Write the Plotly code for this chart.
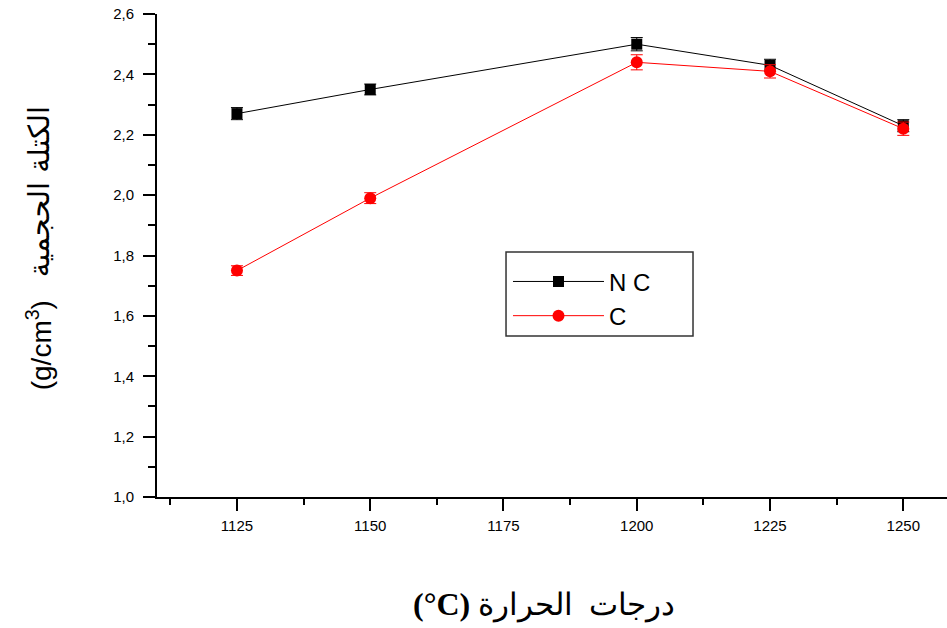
import plotly.graph_objects as go

temps = [1125, 1150, 1200, 1225, 1250]
nc_density = [2.27, 2.35, 2.50, 2.43, 2.23]
nc_err = [0.020, 0.018, 0.022, 0.020, 0.020]
c_density = [1.75, 1.99, 2.44, 2.41, 2.22]
c_err = [0.016, 0.018, 0.025, 0.022, 0.022]

x_ticks = [1125, 1150, 1175, 1200, 1225, 1250]
y_ticks = [1.0, 1.2, 1.4, 1.6, 1.8, 2.0, 2.2, 2.4, 2.6]
y_tick_labels = ["1,0", "1,2", "1,4", "1,6", "1,8", "2,0", "2,2", "2,4", "2,6"]

fig = go.Figure()
fig.add_trace(go.Scatter(
    x=temps, y=nc_density, name="N C", mode="lines+markers",
    line=dict(color="black", width=1),
    marker=dict(symbol="square", size=11, color="black"),
    error_y=dict(type="data", array=nc_err, color="black", thickness=1, width=6),
))
fig.add_trace(go.Scatter(
    x=temps, y=c_density, name="C", mode="lines+markers",
    line=dict(color="red", width=1),
    marker=dict(symbol="circle", size=12, color="red"),
    error_y=dict(type="data", array=c_err, color="red", thickness=1, width=6),
))

axis_font = dict(family="Liberation Sans, Arial, sans-serif", size=15, color="black")

fig.update_xaxes(
    range=[1110, 1258.2], tickvals=x_ticks, ticks="outside", ticklen=12, tickwidth=2,
    tickcolor="black", showline=True, linecolor="black", linewidth=2, showgrid=False,
    zeroline=False, tickfont=axis_font, ticklabelstandoff=2,
    minor=dict(dtick=12.5, tick0=1112.5, ticks="outside", ticklen=6, tickwidth=2, tickcolor="black", showgrid=False),
)
fig.update_yaxes(
    range=[1.0, 2.6], tickvals=y_ticks, ticktext=y_tick_labels, ticks="outside", ticklen=12,
    tickwidth=2, tickcolor="black", showline=True, linecolor="black", linewidth=2,
    showgrid=False, zeroline=False, tickfont=axis_font, ticklabelstandoff=6,
    minor=dict(dtick=0.1, tick0=1.0, ticks="outside", ticklen=7, tickwidth=2, tickcolor="black", showgrid=False),
)

# y-axis title: unit part and Arabic part
fig.add_annotation(
    text="(g/cm<sup>3</sup>)", textangle=-90,
    xref="paper", yref="paper", x=-0.149, y=0.3147, xanchor="center", yanchor="middle",
    showarrow=False, font=dict(family="Liberation Sans, Arial, sans-serif", size=28, color="black"),
)
fig.add_annotation(
    text="الكتلة الحجمية", textangle=-90,
    xref="paper", yref="paper", x=-0.149, y=0.6315, xanchor="center", yanchor="middle",
    showarrow=False, font=dict(family="DejaVu Sans, Liberation Sans, sans-serif", size=29, color="black"),
)
fig.add_annotation(
    text="<b>(°C)</b> <span style='font-size:31px'>درجات  الحرارة</span>",
    xref="paper", yref="paper", x=0.49, y=-0.222, xanchor="center", yanchor="middle",
    showarrow=False, font=dict(family="Liberation Serif, Times New Roman, DejaVu Serif, serif", size=32, color="black"),
)

# legend frame
fig.add_shape(
    type="rect", xref="paper", yref="paper", x0=0.4418, x1=0.6785, y0=0.3333, y1=0.5072,
    line=dict(color="#333", width=1.5), fillcolor="white", layer="below",
)

fig.update_layout(
    width=947, height=628,
    margin=dict(l=157, r=0, t=14, b=131),
    plot_bgcolor="white", paper_bgcolor="white",
    showlegend=True,
    legend=dict(
        x=0.4443, y=0.492, xanchor="left", yanchor="top",
        borderwidth=0, bgcolor="rgba(0,0,0,0)",
        font=dict(family="Liberation Sans, Arial, sans-serif", size=24, color="black"),
        itemwidth=91, tracegroupgap=0,
    ),
)

fig.write_html("out.html", config={"displayModeBar": False},
               post_script="document.body.style.margin='0';")
